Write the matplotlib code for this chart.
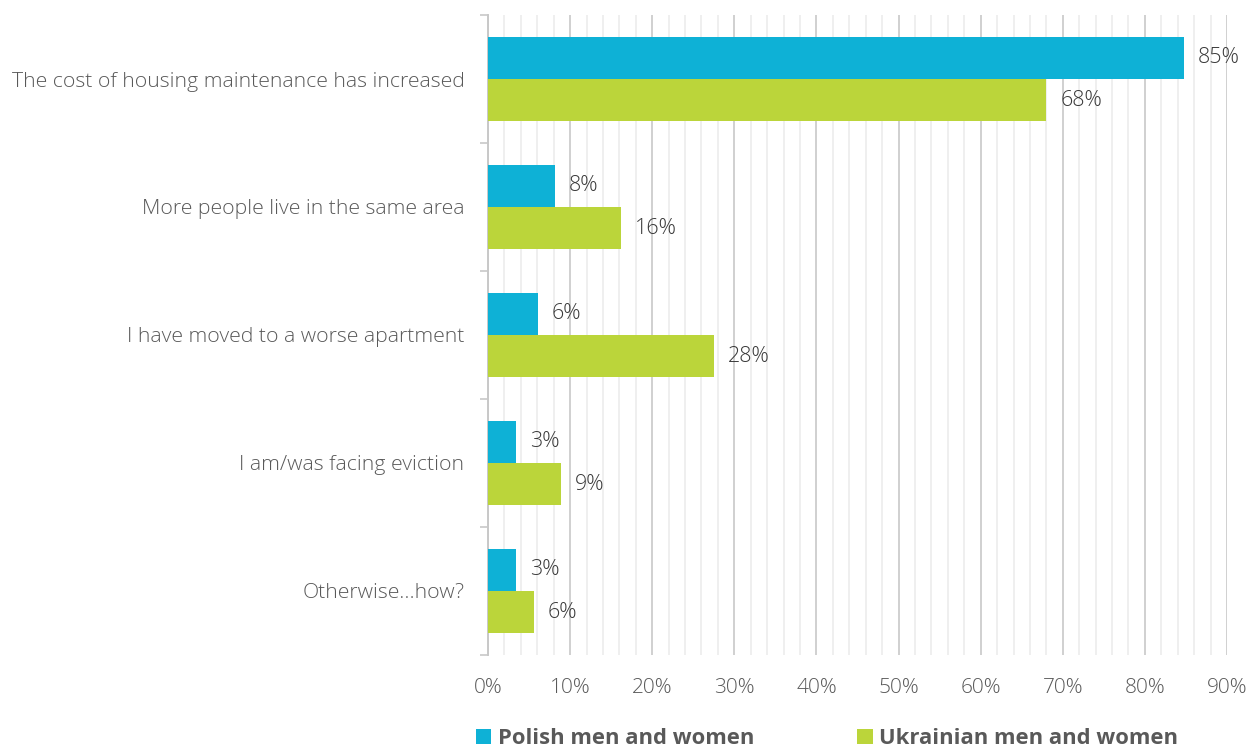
import matplotlib
matplotlib.use("Agg")
import matplotlib.pyplot as plt
from matplotlib.ticker import MultipleLocator, FuncFormatter
import numpy as np

categories = [
    "The cost of housing maintenance has increased",
    "More people live in the same area",
    "I have moved to a worse apartment",
    "I am/was facing eviction",
    "Otherwise\u2026how?",
]
polish = [84.8, 8.2, 6.1, 3.4, 3.4]
ukrainian = [68.0, 16.2, 27.5, 8.9, 5.6]
series_names = ["Polish men and women", "Ukrainian men and women"]

BLUE = "#0EB1D6"
GREEN = "#BBD53A"
TEXT = "#595959"
LABEL = "#3A3A3A"

plt.rcParams["font.family"] = ["Open Sans", "DejaVu Sans"]

fig = plt.figure(figsize=(12.6, 7.51), dpi=100)
ax = fig.add_axes([0.3873, 0.128, 0.5865, 0.852])

y = np.arange(len(categories))
h = 0.33
bars_p = ax.barh(y - h / 2, polish, height=h, color=BLUE, label=series_names[0], zorder=3)
bars_u = ax.barh(y + h / 2, ukrainian, height=h, color=GREEN, label=series_names[1], zorder=3)

for bars, vals in ((bars_p, polish), (bars_u, ukrainian)):
    for b, v in zip(bars, vals):
        ax.annotate(f"{v:.0f}%", (v, b.get_y() + b.get_height() / 2),
                    xytext=(10, 0), textcoords="offset points",
                    ha="left", va="center", fontsize=15.5, color=LABEL,
                    fontweight="light")

ax.set_xlim(0, 90)
ax.set_ylim(len(categories) - 0.5, -0.5)
ax.xaxis.set_major_locator(MultipleLocator(10))
ax.xaxis.set_minor_locator(MultipleLocator(2))
ax.xaxis.set_major_formatter(FuncFormatter(lambda v, _: f"{v:.0f}%"))
ax.grid(axis="x", which="major", color="#D0D0D0", linewidth=1.4, zorder=0)
ax.grid(axis="x", which="minor", color="#EBEBEB", linewidth=1.1, zorder=0)
ax.set_axisbelow(True)

ax.set_yticks(y)
ax.set_yticklabels(categories, fontsize=15.3, color=TEXT, fontweight="light")
ax.set_yticks(np.arange(len(categories) + 1) - 0.5, minor=True)
ax.tick_params(axis="y", which="major", length=0, pad=17)
ax.tick_params(axis="y", which="minor", length=6, color="#C8C8C8", width=1.2)
ax.tick_params(axis="x", which="both", length=0, pad=17, labelsize=15, labelcolor=TEXT)
for t in ax.get_xticklabels():
    t.set_fontweight("light")

for side in ("top", "right", "bottom"):
    ax.spines[side].set_visible(False)
ax.spines["left"].set_color("#C8C8C8")
ax.spines["left"].set_linewidth(1.4)

leg = fig.legend(handles=[bars_p, bars_u], labels=series_names, loc="lower left",
                 bbox_to_anchor=(0.362, -0.024), ncol=2, frameon=False,
                 handlelength=0.7, handleheight=0.7, handletextpad=0.3,
                 columnspacing=4.7, prop={"weight": "bold", "size": 15.8})
for t in leg.get_texts():
    t.set_color(TEXT)

fig.savefig("out.png", dpi=100)
